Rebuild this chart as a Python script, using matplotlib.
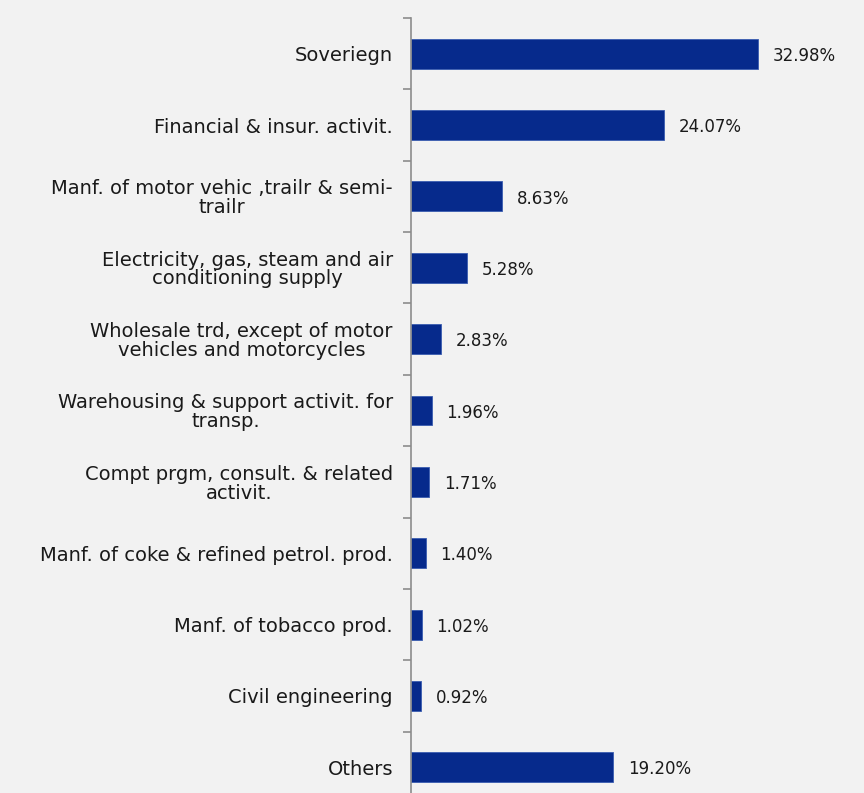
import matplotlib.pyplot as plt
import numpy as np

# sector exposure shares, top to bottom
sectors = [
    "Soveriegn",
    "Financial & insur. activit.",
    "Manf. of motor vehic ,trailr & semi-\ntrailr",
    "Electricity, gas, steam and air\nconditioning supply",
    "Wholesale trd, except of motor\nvehicles and motorcycles",
    "Warehousing & support activit. for\ntransp.",
    "Compt prgm, consult. & related\nactivit.",
    "Manf. of coke & refined petrol. prod.",
    "Manf. of tobacco prod.",
    "Civil engineering",
    "Others",
]
shares = [32.98, 24.07, 8.63, 5.28, 2.83, 1.96, 1.71, 1.40, 1.02, 0.92, 19.20]

plt.rcParams['font.family'] = ['DejaVu Sans']

fig = plt.figure(figsize=(8.64, 7.93), dpi=100, facecolor='#f2f2f2')
ax = fig.add_axes([411 / 864, -10 / 793, 421 / 864, 785 / 793])
ax.set_facecolor('#f2f2f2')

y = np.arange(len(sectors))
ax.barh(y, shares, height=0.42, color='#062a8c', edgecolor='#3a5cb0', linewidth=0.6)

for yi, v in zip(y, shares):
    ax.text(v + 1.4, yi + 0.03, f"{v:.2f}%", va='center', ha='left', fontsize=12, color='#1a1a1a')

ax.set_xlim(0, 40)
ax.set_ylim(len(sectors) - 0.5, -0.5)

ax.set_yticks(y)
ax.set_yticklabels(sectors, fontsize=14, color='#1a1a1a', linespacing=0.98)
for lbl in ax.get_yticklabels():
    lbl.set_multialignment('center')
ax.tick_params(axis='y', which='major', length=0, pad=13)
ax.set_yticks(np.arange(-0.5, len(sectors), 1), minor=True)
ax.tick_params(axis='y', which='minor', length=6, color='#8c8c8c', width=1.2)
ax.set_xticks([])

for side in ['top', 'right', 'bottom']:
    ax.spines[side].set_visible(False)
ax.spines['left'].set_color('#8c8c8c')
ax.spines['left'].set_linewidth(1.2)

fig.savefig('out.png', dpi=100, facecolor=fig.get_facecolor())
